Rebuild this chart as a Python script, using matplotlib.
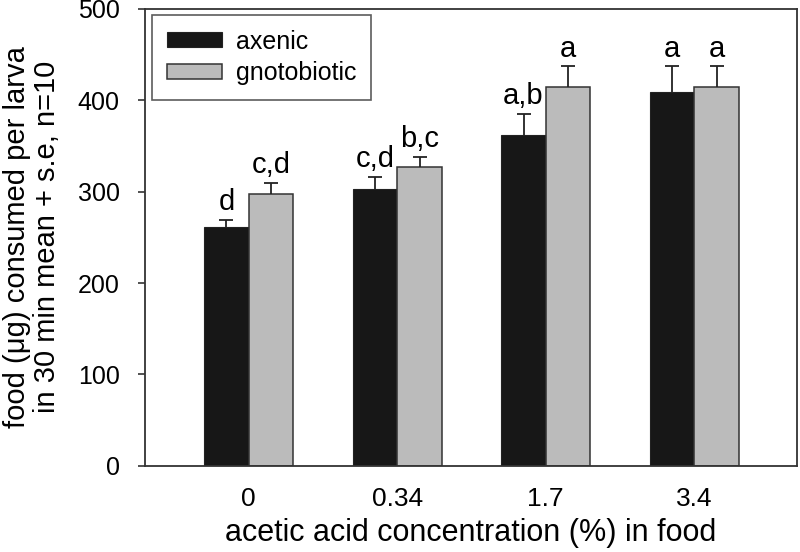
import numpy as np
import matplotlib.pyplot as plt

plt.rcParams['font.family'] = ['Liberation Sans', 'DejaVu Sans']

concentrations = ['0', '0.34', '1.7', '3.4']
axenic = [261, 303, 362, 409]
axenic_se = [8, 13, 23, 28]
gnoto = [297, 327, 415, 414]
gnoto_se = [13, 11, 22, 23]
axenic_letters = ['d', 'c,d', 'a,b', 'a']
gnoto_letters = ['c,d', 'b,c', 'a', 'a']

fig = plt.figure(figsize=(8, 5.52), dpi=100)
ax = fig.add_axes([0.181, 0.156, 0.815, 0.828])

x = np.arange(len(concentrations))
w = 0.30
ax.bar(x - w / 2, axenic, w, color='#171717', edgecolor='#222222', linewidth=0.8,
       label='axenic')
ax.bar(x + w / 2, gnoto, w, color='#bbbbbb', edgecolor='#333333', linewidth=1.1,
       label='gnotobiotic')

# upper error bars only
for pos, vals, se in [(x - w / 2, axenic, axenic_se), (x + w / 2, gnoto, gnoto_se)]:
    _, caps, _ = ax.errorbar(pos, vals, yerr=[np.zeros(4), se], fmt='none',
                             ecolor='#222222', elinewidth=1.3, capsize=5,
                             capthick=1.3)
    caps[0].set_visible(False)

for i in range(len(x)):
    ax.text(x[i] - w / 2, axenic[i] + axenic_se[i] + 4, axenic_letters[i],
            ha='center', va='bottom', fontsize=21)
    ax.text(x[i] + w / 2, gnoto[i] + gnoto_se[i] + 4, gnoto_letters[i],
            ha='center', va='bottom', fontsize=21)

ax.set_xlim(-0.70, 3.69)
ax.set_ylim(0, 500)
ax.set_yticks([0, 100, 200, 300, 400, 500])
ax.set_xticks(x)
ax.set_xticklabels(concentrations)
ax.tick_params(axis='x', length=0, pad=15, labelsize=19)
ax.tick_params(axis='y', length=5, width=1.2, labelsize=18, pad=13,
               direction='out', color='#333333')
for s in ax.spines.values():
    s.set_color('#333333')
    s.set_linewidth(1.3)

ax.set_xlabel('acetic acid concentration (%) in food', fontsize=22, labelpad=5)
ax.set_ylabel('food (\u03bcg) consumed per larva\nin 30 min mean + s.e, n=10',
              fontsize=21, linespacing=1.1)
ax.yaxis.set_label_coords(-0.128, 0.5)

leg = ax.legend(loc='upper left', fontsize=18, frameon=True, fancybox=False,
                edgecolor='#333333', handlelength=2.2, handleheight=0.55,
                handletextpad=0.55, borderpad=0.6, labelspacing=0.3,
                borderaxespad=0, bbox_to_anchor=(0.011, 0.987))
leg.get_frame().set_linewidth(1.2)

fig.savefig('out.png', dpi=100)
